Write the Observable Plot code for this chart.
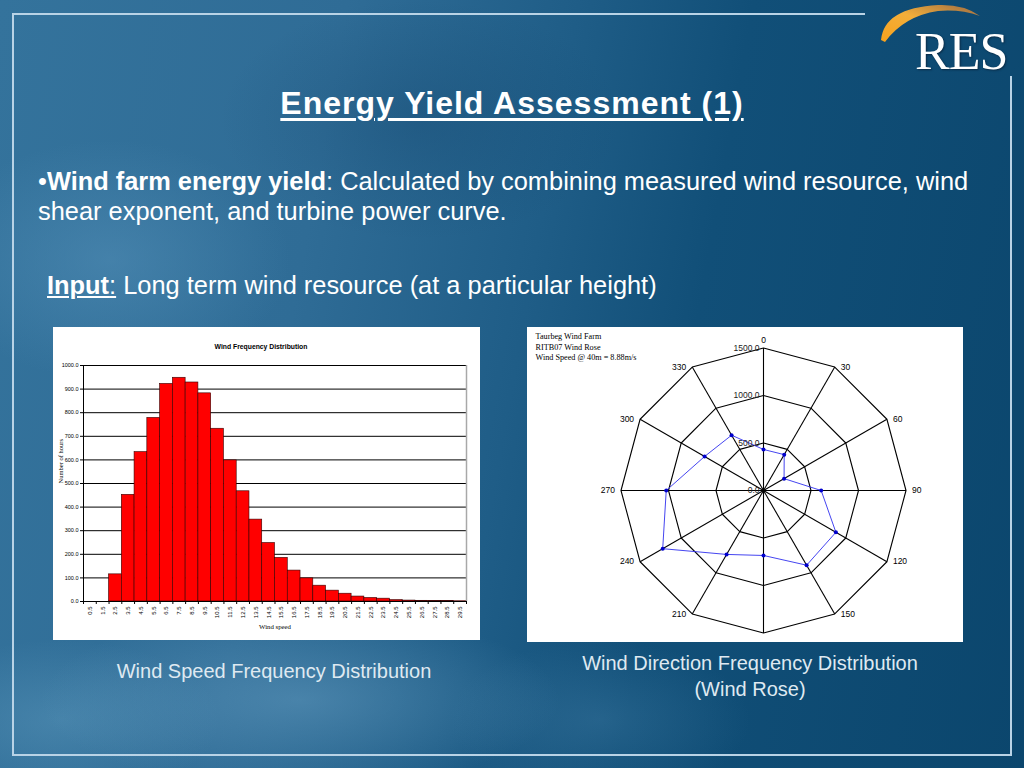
<!DOCTYPE html>
<html><head><meta charset="utf-8">
<script src="https://cdn.jsdelivr.net/npm/d3@7"></script>
<script src="https://cdn.jsdelivr.net/npm/@observablehq/plot@0.6"></script>
<style>
html,body{margin:0;padding:0;width:1024px;height:768px;overflow:hidden;background:#0c4a70;}
#slide{position:relative;width:1024px;height:768px;overflow:hidden;font-family:"Liberation Sans",Arial,sans-serif;color:#fff;
background:
 radial-gradient(ellipse 180px 120px at 110px 260px, rgba(90,150,190,0.45), rgba(90,150,190,0) 100%),
 radial-gradient(ellipse 260px 90px at 300px 700px, rgba(110,165,200,0.45), rgba(110,165,200,0) 100%),
 radial-gradient(ellipse 160px 80px at 60px 720px, rgba(100,160,195,0.4), rgba(100,160,195,0) 100%),
 radial-gradient(ellipse 200px 120px at 420px 120px, rgba(20,70,110,0.35), rgba(20,70,110,0) 100%),
 radial-gradient(ellipse 150px 80px at 600px 720px, rgba(80,140,180,0.3), rgba(80,140,180,0) 100%),
 linear-gradient(100deg, #34739c 0%, #2f6c96 30%, #1f5d87 50%, #114f78 65%, #0b466d 100%);}
.abs{position:absolute;}
.line{position:absolute;background:#b9d3e6;}
#title{left:0;width:1024px;top:83px;text-align:center;font-size:32px;letter-spacing:1px;font-weight:bold;line-height:40px;}
#title span{text-decoration:underline;text-decoration-thickness:2.5px;text-underline-offset:4px;}
#bullet{left:38px;top:166px;width:950px;font-size:25.4px;line-height:30px;}
#input{left:47px;top:270px;font-size:25.4px;line-height:30px;white-space:nowrap;}
.cap{font-size:20px;color:#dfe9f1;text-align:center;}
.panel{position:absolute;background:#fff;}
</style></head>
<body><div id="slide">
<div class="line" style="left:12px;top:13px;width:853px;height:2px"></div>
<div class="line" style="left:12px;top:13px;width:2px;height:743px"></div>
<div class="line" style="left:12px;top:754px;width:1000px;height:2px"></div>
<div class="line" style="left:1010px;top:76px;width:2px;height:680px"></div>

<svg class="abs" style="left:860px;top:0px" width="164" height="80">
 <defs><linearGradient id="og" x1="0" x2="1" y1="1" y2="0">
  <stop offset="0" stop-color="#f7a21c"/><stop offset="0.5" stop-color="#f2ae3a"/><stop offset="1" stop-color="#9a6a44"/></linearGradient></defs>
 <path d="M 21 40 Q 24 8 78 5 Q 104 4 120 16 Q 100 9 78 11 Q 44 16 25 42 Z" fill="url(#og)"/>
</svg>
<div class="abs" style="left:915px;top:22px;font-family:'Liberation Serif',serif;font-size:52px;line-height:60px;color:#fff;letter-spacing:-1px;text-shadow:1px 1px 2px #0a2a45;">RES</div>

<div id="title" class="abs"><span>Energy Yield Assessment (1)</span></div>
<div id="bullet" class="abs">•<b>Wind farm energy yield</b>: Calculated by combining measured wind resource, wind shear exponent, and turbine power curve.</div>
<div id="input" class="abs"><b><u>Input</u></b><u>:</u> Long term wind resource (at a particular height)</div>

<div id="hist" class="panel" style="left:53px;top:327px;width:427px;height:313px"></div>
<div id="rose" class="panel" style="left:527px;top:327px;width:436px;height:315px"></div>

<div class="abs cap" style="left:74px;width:400px;top:659px;line-height:24px">Wind Speed Frequency Distribution</div>
<div class="abs cap" style="left:550px;width:400px;top:650px;line-height:26px">Wind Direction Frequency Distribution<br>(Wind Rose)</div>
</div>
<script>
// ---------- Histogram data ----------
const speedBins = ["0.5","1.5","2.5","3.5","4.5","5.5","6.5","7.5","8.5","9.5","10.5","11.5","12.5","13.5","14.5","15.5","16.5","17.5","18.5","19.5","20.5","21.5","22.5","23.5","24.5","25.5","26.5","27.5","28.5","29.5"];
const hours = [0,0,115,452,633,778,922,948,928,882,732,598,467,347,248,185,131,98,67,46,33,21,15,12,6,4,3,2,2,1];
const hoursTicks = [0,100,200,300,400,500,600,700,800,900,1000];

// ---------- Wind rose data ----------
const directions = [0,30,60,90,120,150,180,210,240,270,300,330];
const frequency = [432,436,250,607,880,908,684,777,1225,1024,716,672];
const ringValues = [500,1000,1500];
const ringLabels = [0,500,1000,1500];
const directionLabels = ["0","30","60","90","120","150","","210","240","270","300","330"];
const roseHeader = ["Taurbeg Wind Farm","RITB07 Wind Rose","Wind Speed @ 40m = 8.88m/s"];

// ---------- Histogram ----------
const bins = speedBins.map((s,i)=>({lo:+s-0.5, hi:+s+0.5, h:hours[i]}));
const edges = bins.map(d=>d.lo).concat([bins[bins.length-1].hi]);
const hist = Plot.plot({
  width:427, height:313, marginLeft:30, marginRight:14, marginTop:38, marginBottom:39,
  style:{background:"white", fontFamily:"'Liberation Sans',Arial,sans-serif", fontSize:"5.5px", color:"black", overflow:"visible"},
  x:{domain:[0,30]}, y:{domain:[0,1000]},
  marks:[
    Plot.ruleY(hoursTicks.slice(1), {stroke:"black", strokeWidth:1}),
    Plot.rectY(bins, {x1:"lo", x2:"hi", y1:0, y2:"h", fill:"#ff0000", stroke:"#300", strokeWidth:0.6}),
    Plot.ruleX([30], {stroke:"#a8a8a8", strokeWidth:1.5}),
    Plot.ruleY([0], {stroke:"black", strokeWidth:1}),
    Plot.ruleX([0], {stroke:"black", strokeWidth:1}),
    Plot.axisY({ticks:hoursTicks, tickFormat:d=>d.toFixed(1), tickSize:3, tickPadding:2, label:null}),
    Plot.axisX({ticks:edges, tickFormat:()=>"", tickSize:3, label:null}),
    Plot.axisX({ticks:speedBins.map(Number), tickFormat:d=>d.toFixed(1), tickSize:0, tickPadding:5, tickRotate:-90, fontSize:6, label:null}),
    Plot.text(["Wind Frequency Distribution"], {frameAnchor:"top", dy:-21, dx:-14, fontWeight:"bold", fontSize:6.8}),
    Plot.text(["Number of hours"], {frameAnchor:"left", dx:-23, rotate:-90, fontFamily:"'Liberation Serif',serif", fontSize:6.5}),
    Plot.text(["Wind speed"], {frameAnchor:"bottom", dy:27, fontFamily:"'Liberation Serif',serif", fontSize:6.8})
  ]
});
document.getElementById("hist").appendChild(hist);

// ---------- Wind rose ----------
const k = 0.095; // px per unit
const cx = 236, cy = 163, W = 436, H = 315;
const rad = a => a*Math.PI/180;
const polar = (v,a)=>({x:v*Math.sin(rad(a)), y:v*Math.cos(rad(a))});
const ringPts = ringValues.flatMap(r => directions.concat([directions[0]]).map(a => ({...polar(r,a), ring:r})));
const spokes = directions.map(a => ({a, ...polar(ringValues[ringValues.length-1], a)}));
const seriesPts = directions.map((a,i)=>({...polar(frequency[i],a), v:frequency[i]}));
const seriesClosed = seriesPts.concat([seriesPts[0]]);
const outer = ringValues[ringValues.length-1];
const dirLab = directions.map((a,i)=>({...polar(outer,a), a, t:directionLabels[i]}));

const rose = Plot.plot({
  width:W, height:H, margin:0,
  style:{background:"white", fontFamily:"'Liberation Sans',Arial,sans-serif", fontSize:"8.5px", color:"black"},
  x:{domain:[-cx/k, (W-cx)/k], range:[0,W], axis:null},
  y:{domain:[-(H-cy)/k, cy/k], range:[H,0], axis:null},
  marks:[
    Plot.line(ringPts, {x:"x", y:"y", z:"ring", stroke:"black", strokeWidth:1.1}),
    Plot.link(spokes, {x1:0, y1:0, x2:"x", y2:"y", stroke:"black", strokeWidth:1.1}),
    Plot.dot([0], {x:0, y:0, r:1.6, fill:"black"}),
    Plot.line(seriesClosed, {x:"x", y:"y", stroke:"#3030ee", strokeWidth:0.9}),
    Plot.dot(seriesPts, {x:"x", y:"y", r:2, fill:"#0000cc"}),
    Plot.text(ringLabels, {x:0, y:d=>d, text:d=>d.toFixed(1), textAnchor:"end", dx:-4, fill:"#222"}),
    Plot.text(dirLab.filter(d=>d.a===0), {x:"x", y:"y", text:"t", dy:-8}),
    Plot.text(dirLab.filter(d=>d.a>0 && d.a<180), {x:"x", y:"y", text:"t", textAnchor:"start", dx:6}),
    Plot.text(dirLab.filter(d=>d.a>180), {x:"x", y:"y", text:"t", textAnchor:"end", dx:-6}),
    Plot.text([roseHeader.join("\n")], {frameAnchor:"top-left", dx:8, dy:4, lineAnchor:"top", lineHeight:1.3,
      fontFamily:"'Liberation Serif',serif", fontSize:8.2})
  ]
});
document.getElementById("rose").appendChild(rose);
</script>
</body></html>
